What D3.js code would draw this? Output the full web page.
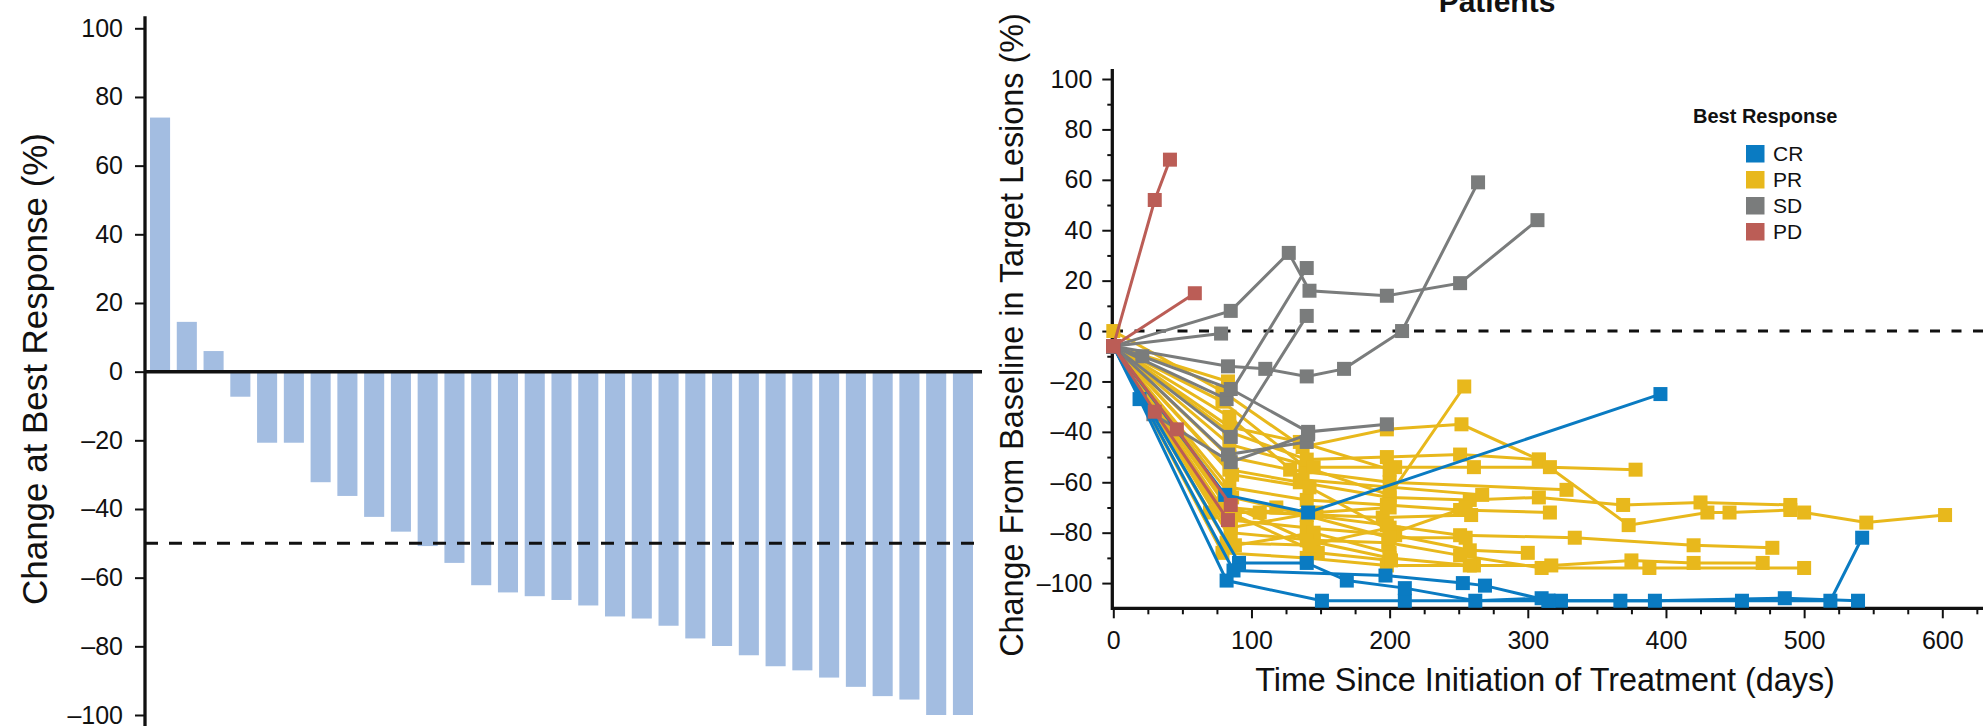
<!DOCTYPE html>
<html>
<head>
<meta charset="utf-8">
<script src="https://cdn.jsdelivr.net/npm/d3@7"></script>
<style>
  body { margin: 0; background: #fff; }
  svg text { font-family: "Liberation Sans", Arial, sans-serif; fill: #111; }
</style>
</head>
<body>
<div id="chart"></div>
<script>
// ---- left panel: best change per patient (waterfall)
var bestChange = [74, 14.5, 6, -7.3, -20.7, -20.7, -32.2, -36.2, -42.3, -46.6, -50.8, -55.7,
  -62.2, -64.3, -65.4, -66.5, -68.1, -71.3, -71.9, -74, -77.7, -79.9, -82.6, -85.8, -87,
  -89.1, -91.8, -94.5, -95.5, -100, -100];
var waterfallTicks = [100, 80, 60, 40, 20, 0, -20, -40, -60, -80, -100];
var responseCutoff = -50;

// ---- right panel: change over time, [day, change %]
var responseTypes = ["CR", "PR", "SD", "PD"];
var responseColors = ["#0a7bc2", "#e8b81c", "#7a7c7c", "#bb5d56"];

var prPatients = [
  [[0,0],[79,-24],[137,-46],[198,-39],[252,-37],[308,-51],[373,-77],[430,-72],[446,-72],[490,-71]],
  [[0,-6],[79,-28],[139,-54],[200,-65],[254,-22]],
  [[0,-6],[84,-40],[140,-51],[198,-50],[251,-49],[308,-51]],
  [[0,-6],[84,-45],[145,-54],[204,-54],[261,-54],[316,-54],[378,-55]],
  [[0,-6],[84,-50],[128,-55],[200,-60],[328,-63]],
  [[0,-6],[84,-55],[135,-60],[200,-66],[258,-67],[308,-66],[369,-69],[425,-68],[490,-69],[500,-72],[545,-76],[602,-73]],
  [[0,-6],[84,-62],[140,-67],[198,-69],[251,-71],[316,-72]],
  [[0,-6],[70,-72],[106,-72],[195,-74],[259,-73]],
  [[0,-6],[84,-70],[140,-73],[198,-77],[251,-81],[334,-82],[420,-85],[477,-86]],
  [[0,-6],[85,-75],[140,-78],[204,-81],[258,-87],[300,-88]],
  [[0,-6],[85,-80],[145,-83],[199,-84],[251,-89],[310,-94],[388,-94],[500,-94]],
  [[0,-6],[79,-88],[140,-90],[198,-93],[261,-93],[317,-93],[375,-91],[420,-92],[470,-92]],
  [[0,-6],[83,-20]],
  [[0,-6],[84,-34],[137,-59],[267,-65]],
  [[0,-6],[88,-85],[145,-80],[200,-88]],
  [[0,-6],[84,-38],[135,-44],[200,-55]],
  [[0,-6],[86,-57],[142,-62],[203,-80],[255,-70]],
  [[0,-6],[80,-68],[140,-83],[200,-90],[258,-93]],
  [[0,-6],[88,-73],[148,-88],[201,-91]],
  [[0,-6],[85,-78],[147,-72],[200,-70]],
  [[0,-6],[82,-84],[142,-85],[200,-78]],
  [[0,-6],[86,-66],[118,-70],[200,-82],[255,-82]]
];
var sdPatients = [
  [[0,-6],[85,8],[127,31],[142,16],[198,14],[251,19],[307,44]],
  [[0,-6],[82,-27],[140,25]],
  [[0,-6],[78,-1]],
  [[0,-6],[85,-42],[140,6]],
  [[0,-6],[83,-14],[110,-15],[140,-18],[167,-15],[209,0],[264,59]],
  [[0,-6],[21,-10],[85,-23],[141,-40],[198,-37]],
  [[0,-6],[83,-49],[140,-44]],
  [[0,-6],[29,-33],[85,-52],[141,-41]]
];
var crPatients = [
  [[0,-6],[81,-65],[141,-72],[396,-25]],
  [[0,-6],[19,-27],[82,-99],[151,-107],[211,-107],[315,-107],[367,-107],[455,-107],[519,-107],[542,-82]],
  [[0,-6],[91,-92],[140,-92],[169,-99],[211,-102],[262,-107],[310,-106],[324,-107],[392,-107],[486,-106],[539,-107]],
  [[0,-6],[87,-95],[197,-97],[253,-100],[269,-101],[315,-107]]
];
var pdPatients = [
  [[0,-6],[30,52],[41,68]],
  [[0,-6],[59,15]],
  [[0,-6],[30,-32],[83,-75]],
  [[0,-6],[46,-39],[85,-69]]
];
var dayTicks = [0, 100, 200, 300, 400, 500, 600];
var changeTicks = [100, 80, 60, 40, 20, 0, -20, -40, -60, -80, -100];

var width = 1983;
var height = 726;

var svg = d3.select("#chart")
  .append("svg")
  .attr("width", width)
  .attr("height", height);

function fmt(d) {
  return d < 0 ? "\u2013" + Math.abs(d) : String(d);
}

// shrink/grow a label so it covers the given length
function fitText(sel, target) {
  var fs = parseFloat(sel.attr("font-size"));
  var len = sel.node().getComputedTextLength();
  sel.attr("font-size", fs * target / len);
}

//Left panel
var xBar = d3.scaleBand()
  .domain(d3.range(bestChange.length))
  .range([146, 977])
  .paddingInner(0.25)
  .paddingOuter(0.15);

var yBar = d3.scaleLinear()
  .domain([-100, 100])
  .range([715, 28.3]);

svg.append("g")
  .selectAll("rect")
  .data(bestChange)
  .enter().append("rect")
    .attr("x", function(d, i) { return xBar(i); })
    .attr("width", xBar.bandwidth())
    .attr("y", function(d) { return yBar(Math.max(d, 0)); })
    .attr("height", function(d) { return Math.abs(yBar(d) - yBar(0)); })
    .attr("fill", "#a3bde1");

var gL = svg.append("g")
  .attr("transform", "translate(145,0)")
  .call(d3.axisLeft(yBar).tickValues(waterfallTicks).tickSize(10).tickPadding(12).tickFormat(fmt));
gL.attr("font-family", null).attr("font-size", null);
gL.select(".domain").remove();
gL.selectAll(".tick text").attr("font-size", 25);

svg.append("line")
  .attr("x1", 145).attr("x2", 145)
  .attr("y1", yBar(103.5)).attr("y2", height)
  .attr("stroke", "#111").attr("stroke-width", 3.3);

svg.append("line")
  .attr("x1", 145).attr("x2", 982)
  .attr("y1", yBar(0)).attr("y2", yBar(0))
  .attr("stroke", "#111").attr("stroke-width", 3.5);

svg.append("line")
  .attr("x1", 145).attr("x2", 978)
  .attr("y1", yBar(responseCutoff)).attr("y2", yBar(responseCutoff))
  .attr("stroke", "#111").attr("stroke-width", 3)
  .attr("stroke-dasharray", "13,11");

var leftTitle = svg.append("text")
  .attr("transform", "translate(47," + 369 + ") rotate(-90)")
  .attr("text-anchor", "middle")
  .attr("font-size", 36)
  .text("Change at Best Response (%)");
fitText(leftTitle, 472);

//Right panel
var xDay = d3.scaleLinear()
  .domain([0, 600])
  .range([1113.3, 1942.3]);

var yChg = d3.scaleLinear()
  .domain([-110, 100])
  .range([608.3, 79]);

// y axis: labelled ticks every 20, short ones in between
var gY = svg.append("g")
  .attr("transform", "translate(1112.3,0)")
  .call(d3.axisLeft(yChg).tickValues(changeTicks).tickSize(10).tickPadding(10).tickFormat(fmt));
gY.attr("font-family", null).attr("font-size", null);
gY.select(".domain").remove();
gY.selectAll(".tick text").attr("font-size", 25);

var gYm = svg.append("g")
  .attr("transform", "translate(1112.3,0)")
  .call(d3.axisLeft(yChg).tickValues(d3.range(-90, 100, 20)).tickSize(5).tickFormat(""));
gYm.select(".domain").remove();

var gX = svg.append("g")
  .attr("transform", "translate(0,608.3)")
  .call(d3.axisBottom(xDay).tickValues(dayTicks).tickSize(10).tickPadding(13).tickFormat(fmt));
gX.attr("font-family", null).attr("font-size", null);
gX.select(".domain").remove();
gX.selectAll(".tick text").attr("font-size", 25);

var gXm = svg.append("g")
  .attr("transform", "translate(0,608.3)")
  .call(d3.axisBottom(xDay).tickValues(d3.range(25, 626, 25).filter(function(d) { return d % 100; })).tickSize(6).tickFormat(""));
gXm.select(".domain").remove();

svg.selectAll(".tick line").attr("stroke", "#111").attr("stroke-width", 2);

svg.append("line")
  .attr("x1", 1112.3).attr("x2", 1112.3)
  .attr("y1", 69).attr("y2", 610)
  .attr("stroke", "#111").attr("stroke-width", 3.3);
svg.append("line")
  .attr("x1", 1111).attr("x2", width)
  .attr("y1", 608.3).attr("y2", 608.3)
  .attr("stroke", "#111").attr("stroke-width", 3.3);

svg.append("line")
  .attr("x1", 1113).attr("x2", width)
  .attr("y1", yChg(0)).attr("y2", yChg(0))
  .attr("stroke", "#111").attr("stroke-width", 3)
  .attr("stroke-dasharray", "10,11.5");

var line = d3.line()
  .x(function(d) { return xDay(d[0]); })
  .y(function(d) { return yChg(d[1]); });

var groups = [
  { data: prPatients, color: responseColors[1] },
  { data: sdPatients, color: responseColors[2] },
  { data: crPatients, color: responseColors[0] },
  { data: pdPatients, color: responseColors[3] }
];

var mk = 14;
groups.forEach(function(grp) {
  var g = svg.append("g");
  g.selectAll("path")
    .data(grp.data)
    .enter().append("path")
      .attr("d", line)
      .attr("fill", "none")
      .attr("stroke", grp.color)
      .attr("stroke-width", 3);
  g.selectAll("rect")
    .data(grp.data.reduce(function(a, p) { return a.concat(p); }, []))
    .enter().append("rect")
      .attr("x", function(d) { return xDay(d[0]) - mk / 2; })
      .attr("y", function(d) { return yChg(d[1]) - mk / 2; })
      .attr("width", mk)
      .attr("height", mk)
      .attr("fill", grp.color);
});

var yTitle = svg.append("text")
  .attr("transform", "translate(1023,335) rotate(-90)")
  .attr("text-anchor", "middle")
  .attr("font-size", 32)
  .text("Change From Baseline in Target Lesions (%)");
fitText(yTitle, 644);

var xTitle = svg.append("text")
  .attr("x", 1545)
  .attr("y", 691)
  .attr("text-anchor", "middle")
  .attr("font-size", 30)
  .text("Time Since Initiation of Treatment (days)");
fitText(xTitle, 580);

// title is cut off at the top of the picture
svg.append("text")
  .attr("x", 1497)
  .attr("y", 12)
  .attr("text-anchor", "middle")
  .attr("font-size", 30)
  .attr("font-weight", "bold")
  .text("Patients");

//Legend
var legend = svg.append("g");
legend.append("text")
  .attr("x", 1693)
  .attr("y", 123)
  .attr("font-size", 20)
  .attr("font-weight", "bold")
  .text("Best Response");

var items = legend.selectAll("g.item")
  .data(responseTypes)
  .enter().append("g")
    .attr("class", "item")
    .attr("transform", function(d, i) { return "translate(1746," + (145 + i * 26) + ")"; });
items.append("rect")
  .attr("width", 18.5)
  .attr("height", 17.5)
  .attr("fill", function(d, i) { return responseColors[i]; });
items.append("text")
  .attr("x", 27)
  .attr("y", 16)
  .attr("font-size", 21)
  .text(function(d) { return d; });
</script>
</body>
</html>
